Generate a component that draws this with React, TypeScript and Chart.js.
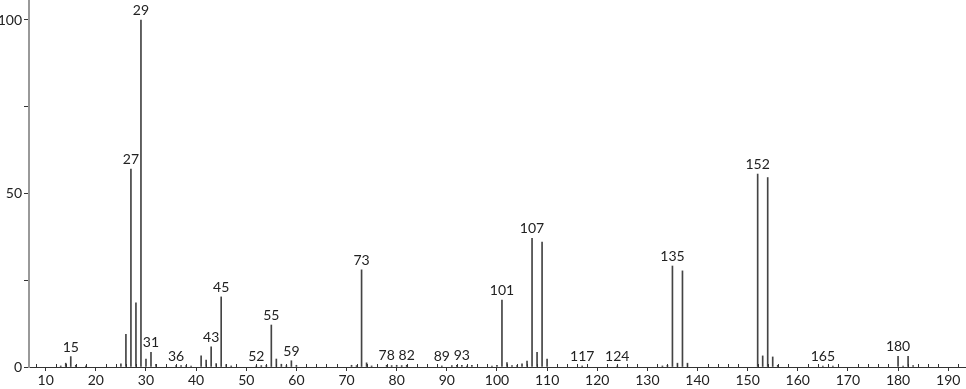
import React, { useEffect, useRef } from "react";
import { Chart, registerables } from "chart.js";

Chart.register(...registerables);

const mzValues = [13, 14, 15, 16, 18, 25, 26, 27, 28, 29, 30, 31, 32, 36, 37, 38, 39, 41, 42, 43, 44, 45, 46, 47, 52, 53, 54, 55, 56, 57, 58, 59, 60, 71, 72, 73, 74, 75, 78, 79, 80, 81, 82, 89, 91, 92, 93, 94, 95, 99, 100, 101, 102, 103, 104, 105, 106, 107, 108, 109, 110, 117, 124, 133, 134, 135, 136, 137, 138, 152, 153, 154, 155, 156, 165, 167, 180, 181, 182, 183];
const intensities = [0.3, 1.1, 3.0, 0.5, 0.3, 0.9, 9.4, 57.0, 18.5, 100, 2.3, 4.2, 0.8, 0.4, 0.4, 0.4, 0.3, 3.2, 2.0, 5.8, 1.0, 20.2, 0.7, 0.3, 0.3, 0.4, 0.5, 12.1, 2.3, 0.8, 0.4, 1.8, 0.5, 0.5, 0.4, 28.0, 1.2, 0.3, 0.5, 0.4, 0.5, 0.4, 0.5, 0.3, 0.4, 0.5, 0.5, 0.3, 0.5, 0.3, 0.5, 19.3, 1.3, 0.4, 0.4, 0.9, 1.7, 37.1, 4.2, 36.0, 2.3, 0.3, 0.3, 0.3, 0.5, 29.1, 1.1, 27.7, 1.1, 55.6, 3.2, 54.6, 2.9, 0.5, 0.3, 0.3, 3.1, 0.3, 3.1, 0.4];
const labeledPeaks = [15, 27, 29, 31, 36, 43, 45, 52, 55, 59, 73, 78, 82, 89, 93, 101, 107, 117, 124, 135, 152, 165, 180];
const xMin = 6.67;
const xMax = 193.55;
const yMax = 105.76;
const yTickLabels = [0, 50, 100];

const peakLabelPlugin = {
  id: "peakLabels",
  afterDatasetsDraw(chart: any) {
    const ctx = chart.ctx;
    const xs = chart.scales.x;
    const ys = chart.scales.y;
    ctx.save();
    ctx.font = "14px Lato";
    ctx.fillStyle = "#222";
    ctx.textAlign = "center";
    ctx.textBaseline = "alphabetic";
    labeledPeaks.forEach((mz) => {
      const i = mzValues.indexOf(mz);
      if (i < 0) return;
      const px = xs.getPixelForValue(mz);
      const py = ys.getPixelForValue(intensities[i]);
      ctx.fillText(String(mz), px, py - 5);
    });
    // minor ticks above x axis
    ctx.strokeStyle = "#333";
    ctx.lineWidth = 1;
    const base = ys.getPixelForValue(0);
    for (let v = 8; v <= 192; v += 2) {
      if (v % 10 === 0) continue;
      const px = Math.round(xs.getPixelForValue(v)) + 0.5;
      ctx.beginPath();
      ctx.moveTo(px, base);
      ctx.lineTo(px, base - 3);
      ctx.stroke();
    }
    ctx.restore();
  },
};

export default function App() {
  const ref = useRef<HTMLCanvasElement | null>(null);
  useEffect(() => {
    if (!ref.current) return;
    Chart.defaults.font.family = "Lato";
    const chart = new Chart(ref.current, {
      type: "bar",
      data: {
        datasets: [
          {
            data: mzValues.map((m, i) => ({ x: m, y: intensities[i] })),
            backgroundColor: "#444",
            borderWidth: 0,
            barThickness: 1,
          },
        ],
      },
      options: {
        animation: false,
        responsive: true,
        maintainAspectRatio: false,
        layout: { padding: 0 },
        plugins: { legend: { display: false }, tooltip: { enabled: false } },
        scales: {
          x: {
            type: "linear",
            min: xMin,
            max: xMax,
            offset: false,
            grid: {
              display: true,
              drawOnChartArea: false,
              drawTicks: true,
              tickLength: 4,
              offset: false,
              color: (c: any) => (c.tick && c.tick.value % 10 === 0 ? "#333" : "rgba(0,0,0,0)"),
            },
            border: { display: true, color: "#333", width: 1 },
            ticks: {
              stepSize: 2,
              includeBounds: false,
              autoSkip: false,
              maxRotation: 0,
              padding: 1,
              color: "#222",
              font: { size: 14, family: "Lato" },
              callback: (v: any) => (Number(v) % 10 === 0 ? String(v) : ""),
            },
            afterFit: (s: any) => {
              s.height = 22;
              s.paddingLeft = 0;
              s.paddingRight = 0;
            },
          },
          y: {
            type: "linear",
            min: 0,
            max: yMax,
            grid: {
              display: true,
              drawOnChartArea: false,
              drawTicks: true,
              tickLength: 5,
              color: "#333",
            },
            border: { display: true, color: "#999", width: 2 },
            ticks: {
              stepSize: 25,
              includeBounds: false,
              autoSkip: false,
              padding: 2,
              color: "#222",
              font: { size: 14, family: "Lato" },
              callback: (v: any) => (yTickLabels.includes(Number(v)) ? String(v) : ""),
            },
            afterFit: (s: any) => {
              s.width = 29;
              s.paddingTop = 0;
              s.paddingBottom = 0;
            },
          },
        },
      },
      plugins: [peakLabelPlugin],
    });
    return () => chart.destroy();
  }, []);
  return (
    <div style={{ position: "fixed", left: 0, top: 0, width: 966, height: 389, background: "#fff" }}>
      <canvas ref={ref} />
    </div>
  );
}
